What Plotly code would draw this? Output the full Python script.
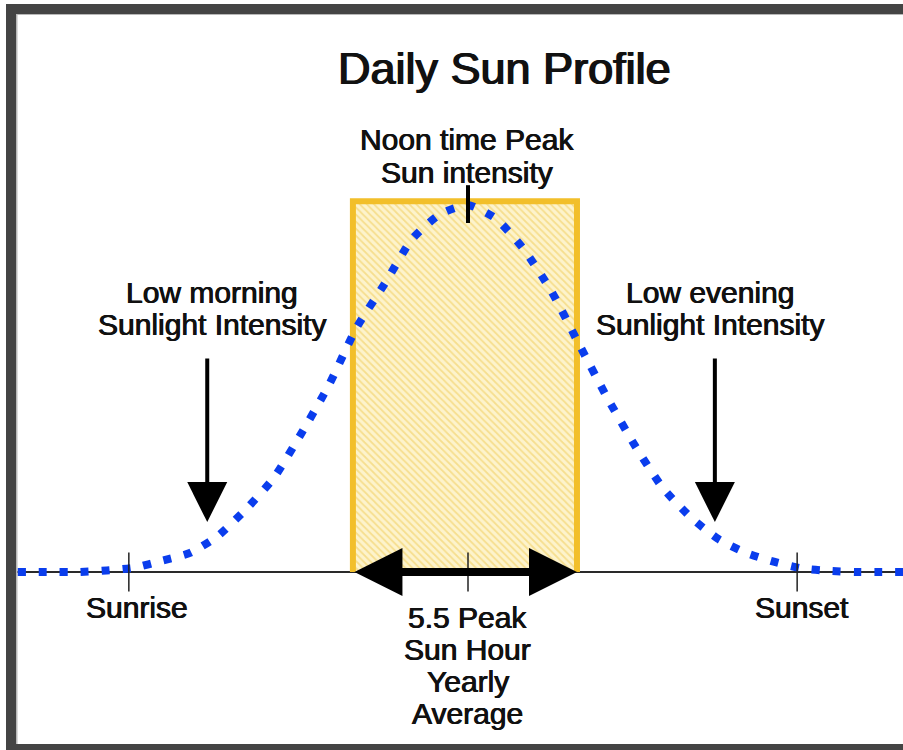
import plotly.graph_objects as go

# ---------------- data ----------------
hours = [3.9, 4.5, 5.0, 5.5, 6.0, 6.5, 7.0, 7.5, 8.0, 8.5, 9.0, 9.5, 10.0, 10.5,
         11.0, 11.5, 12.0, 12.5, 13.0, 13.5, 14.0, 14.5, 15.0, 15.5, 16.0, 16.5,
         17.0, 17.5, 18.0, 18.5, 19.0, 19.85]
intensity = [0.0, 0.0, 0.0, 0.004, 0.012, 0.031, 0.052, 0.098, 0.17, 0.255, 0.377,
             0.51, 0.667, 0.785, 0.908, 0.975, 1.0, 0.963, 0.88, 0.765, 0.62, 0.476,
             0.345, 0.23, 0.15, 0.09, 0.052, 0.028, 0.01, 0.003, 0.0, 0.0]

box_start, box_end, box_top = 9.93, 13.96, 1.01      # peak-sun-hour block
noon = 12.0
sunrise, sunset = 5.90, 17.92
tick_labels = ["Sunrise", "Sunset"]
morning_arrow_x, evening_arrow_x = 7.31, 16.44
arrow_tip, arrow_tail = 0.136, 0.586
peak_tick = [0.951, 1.054]
tick_half = 0.053

title_text = "Daily Sun Profile"
noon_lines = ["Noon time Peak", "Sun intensity"]
morning_lines = ["Low morning", "Sunlight Intensity"]
evening_lines = ["Low evening", "Sunlight Intensity"]
psh_lines = ["5.5 Peak", "Sun Hour", "Yearly", "Average"]

# ---------------- geometry ----------------
W, H = 903, 750
PX_PER_H = 55.6
NOON_PX = 468
BASE_PX = 572
PX_PER_UNIT = 367
x_range = [noon - NOON_PX / PX_PER_H, noon + (W - NOON_PX) / PX_PER_H]
y_range = [-(H - BASE_PX) / PX_PER_UNIT, BASE_PX / PX_PER_UNIT]

FONT = "Liberation Sans, Arial, Helvetica, sans-serif"
BLUE = "#0a3ded"
GOLD = "#f2bf2a"
INK = "#111111"


def px(x):
    return x / W


def py(y):
    return 1 - y / H


fig = go.Figure()

# hatched peak-sun block (fill only)
fig.add_trace(go.Scatter(
    x=[box_start, box_start, box_end, box_end, box_start],
    y=[0, box_top, box_top, 0, 0],
    mode="lines", fill="toself", fillcolor="#fdf3cc",
    fillpattern=dict(shape="\\", fgcolor="#efca50", bgcolor="#fdf3cc",
                     size=5, solidity=0.35),
    line=dict(width=0), hoverinfo="skip"))
# its golden outline (three sides)
fig.add_trace(go.Scatter(
    x=[box_start, box_start, box_end, box_end],
    y=[0, box_top, box_top, 0],
    mode="lines", line=dict(color=GOLD, width=6), hoverinfo="skip"))

# sun intensity curve
fig.add_trace(go.Scatter(
    x=hours, y=intensity, mode="lines",
    line=dict(color=BLUE, width=8, dash="8px,13px", shape="spline", smoothing=0.6),
    hoverinfo="skip"))

shapes = []
# baseline (time axis)
shapes.append(dict(type="line", xref="paper", yref="y", x0=px(16), x1=1, y0=0, y1=0,
                   line=dict(color="#2a2a2a", width=2), layer="below"))
# ticks
for t in [sunrise, noon, sunset]:
    shapes.append(dict(type="line", xref="x", yref="y", x0=t, x1=t,
                       y0=-tick_half, y1=tick_half, line=dict(color="#222", width=1.5)))
# peak marker
shapes.append(dict(type="line", xref="x", yref="y", x0=noon, x1=noon,
                   y0=peak_tick[0], y1=peak_tick[1], line=dict(color="#000", width=4)))
# frame
FRAME = "#444444"
shapes += [
    dict(type="rect", xref="paper", yref="paper", x0=px(6), x1=1, y0=py(14), y1=py(4),
         fillcolor=FRAME, line=dict(width=0)),
    dict(type="rect", xref="paper", yref="paper", x0=px(6), x1=px(16), y0=0, y1=py(4),
         fillcolor=FRAME, line=dict(width=0)),
    dict(type="rect", xref="paper", yref="paper", x0=px(6), x1=1, y0=0, y1=py(744),
         fillcolor=FRAME, line=dict(width=0)),
    dict(type="rect", xref="paper", yref="paper", x0=px(16), x1=1, y0=py(15), y1=py(14),
         fillcolor="#b8b8b8", line=dict(width=0)),
    dict(type="rect", xref="paper", yref="paper", x0=px(16), x1=px(17.5), y0=py(744), y1=py(14),
         fillcolor="#b8b8b8", line=dict(width=0)),
]

ann = []
# double-headed peak sun hour arrow
ann.append(dict(x=box_end, y=0, ax=box_start, ay=0, xref="x", yref="y", axref="x", ayref="y",
                text="", showarrow=True, arrowside="end+start", arrowhead=2, startarrowhead=2,
                arrowwidth=8, arrowsize=1.2, startarrowsize=1.2, arrowcolor="#000"))
# down arrows to low morning / evening intensity
for xa in [morning_arrow_x, evening_arrow_x]:
    ann.append(dict(x=xa, y=arrow_tip, ax=xa, ay=arrow_tail, xref="x", yref="y",
                    axref="x", ayref="y", text="", showarrow=True, arrowhead=2,
                    arrowwidth=4, arrowsize=2, arrowcolor="#000"))


def label(text, xc, yc, size=30, heavy=0.45):
    ann.append(dict(text=text, x=px(xc), y=py(yc), xref="paper", yref="paper",
                    xanchor="center", yanchor="middle", showarrow=False,
                    font=dict(family=FONT, size=size, color=INK,
                              shadow=f"{heavy}px 0 0 {INK}, -{heavy}px 0 0 {INK}")))


label(title_text, 505, 69, size=45, heavy=0.8)
for i, t in enumerate(noon_lines):
    label(t, 467, 140 + 32 * i)
for i, t in enumerate(morning_lines):
    label(t, 212, 292 + 32.5 * i)
for i, t in enumerate(evening_lines):
    label(t, 710, 292 + 32.5 * i)
label(tick_labels[0], 137, 607)
label(tick_labels[1], 802, 607)
for i, t in enumerate(psh_lines):
    label(t, 468, 617 + 32.3 * i)

fig.update_layout(
    width=W, height=H, margin=dict(l=0, r=0, t=0, b=0, pad=0),
    paper_bgcolor="white", plot_bgcolor="white", showlegend=False,
    xaxis=dict(range=x_range, visible=False, fixedrange=True),
    yaxis=dict(range=y_range, visible=False, fixedrange=True),
    shapes=shapes, annotations=ann,
)

fig.write_html("out.html", config={"displayModeBar": False},
               post_script="document.body.style.margin='0px';")
